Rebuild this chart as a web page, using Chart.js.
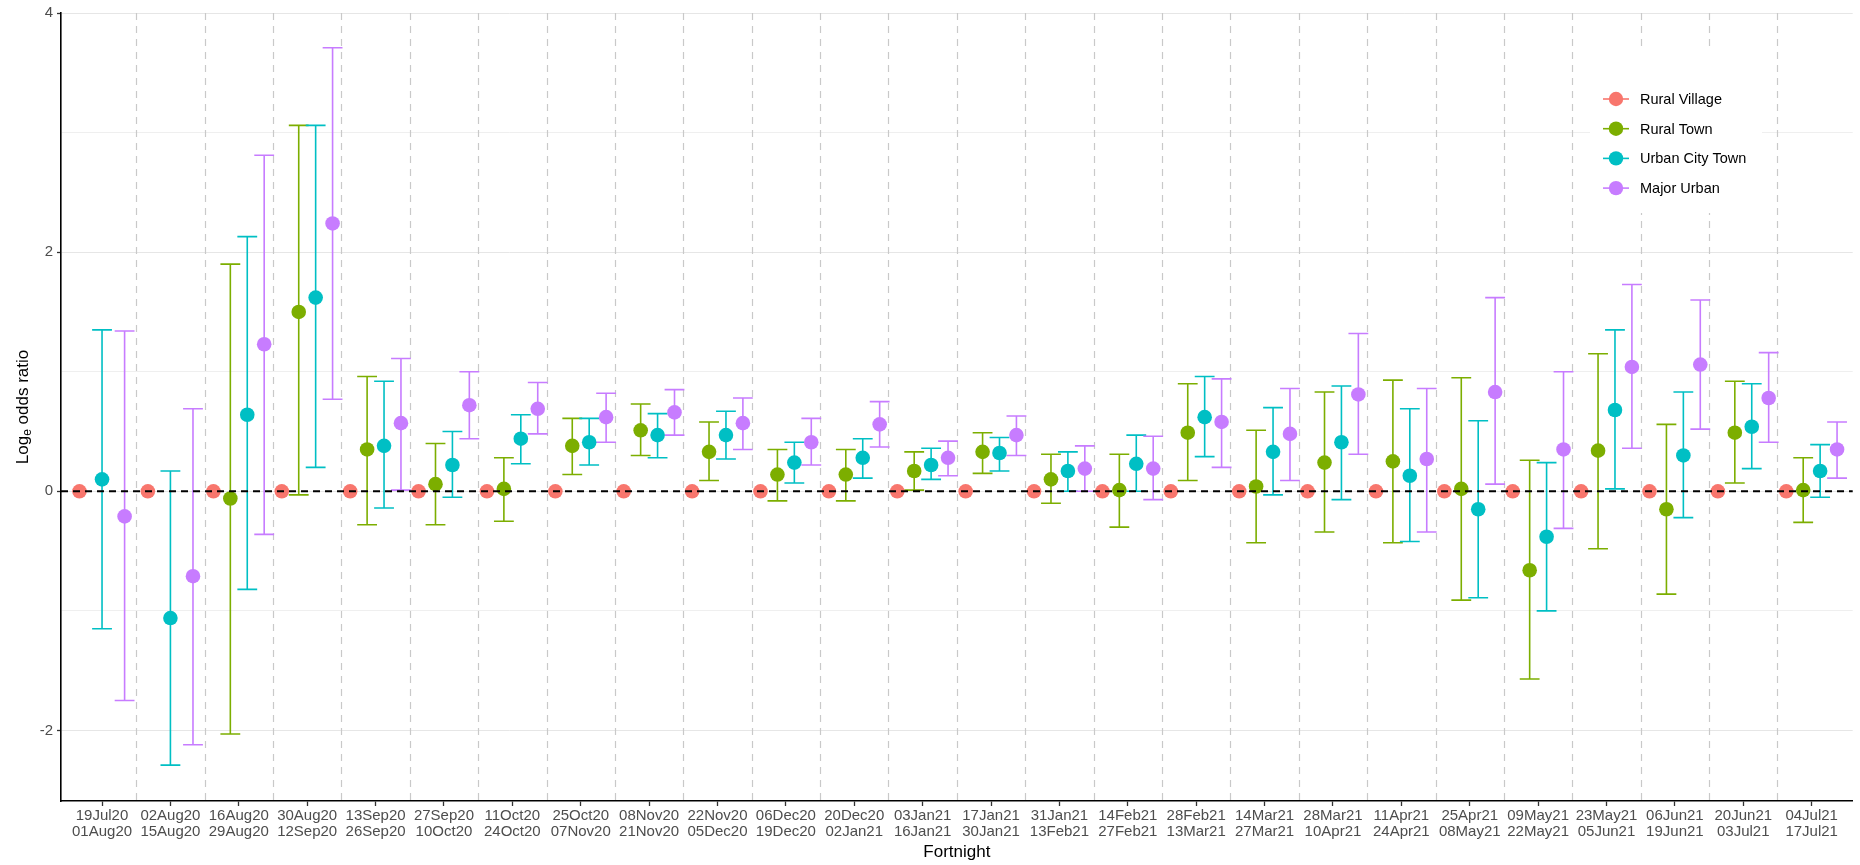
<!DOCTYPE html>
<html>
<head>
<meta charset="utf-8">
<script src="https://cdn.jsdelivr.net/npm/chart.js@4.4.1/dist/chart.umd.min.js"></script>
<style>
  body { margin: 0; background: #fff; }
  #wrap { width: 1860px; height: 865px; }
</style>
</head>
<body>
<div id="wrap"><canvas id="oddsChart" width="1860" height="865"></canvas></div>
<script>
// fortnight labels (start / end)
const fortnightStart = ['19Jul20','02Aug20','16Aug20','30Aug20','13Sep20','27Sep20','11Oct20','25Oct20','08Nov20','22Nov20','06Dec20','20Dec20','03Jan21','17Jan21','31Jan21','14Feb21','28Feb21','14Mar21','28Mar21','11Apr21','25Apr21','09May21','23May21','06Jun21','20Jun21','04Jul21'];
const fortnightEnd = ['01Aug20','15Aug20','29Aug20','12Sep20','26Sep20','10Oct20','24Oct20','07Nov20','21Nov20','05Dec20','19Dec20','02Jan21','16Jan21','30Jan21','13Feb21','27Feb21','13Mar21','27Mar21','10Apr21','24Apr21','08May21','22May21','05Jun21','19Jun21','03Jul21','17Jul21'];

const groupNames = ['Rural Village','Rural Town','Urban City Town','Major Urban'];
const groupColors = ['#F8766D','#7CAE00','#00BFC4','#C77CFF'];

// reference group
const ruralVillageEst = [0,0,0,0,0,0,0,0,0,0,0,0,0,0,0,0,0,0,0,0,0,0,0,0,0,0];

const ruralTownEst = [null,null,-0.06,1.50,0.35,0.06,0.02,0.38,0.51,0.33,0.14,0.14,0.17,0.33,0.10,0.01,0.49,0.04,0.24,0.25,0.02,-0.66,0.34,-0.15,0.49,0.01];
const ruralTownLo  = [null,null,-2.03,-0.03,-0.28,-0.28,-0.25,0.14,0.30,0.09,-0.08,-0.08,0.01,0.15,-0.10,-0.30,0.09,-0.43,-0.34,-0.43,-0.91,-1.57,-0.48,-0.86,0.07,-0.26];
const ruralTownHi  = [null,null,1.90,3.06,0.96,0.40,0.28,0.61,0.73,0.58,0.35,0.35,0.33,0.49,0.31,0.31,0.90,0.51,0.83,0.93,0.95,0.26,1.15,0.56,0.92,0.28];

const urbanCityEst = [0.10,-1.06,0.64,1.62,0.38,0.22,0.44,0.41,0.47,0.47,0.24,0.28,0.22,0.32,0.17,0.23,0.62,0.33,0.41,0.13,-0.15,-0.38,0.68,0.30,0.54,0.17];
const urbanCityLo  = [-1.15,-2.29,-0.82,0.20,-0.14,-0.05,0.23,0.22,0.28,0.27,0.07,0.11,0.10,0.17,0.00,0.00,0.29,-0.03,-0.07,-0.42,-0.89,-1.00,0.02,-0.22,0.19,-0.05];
const urbanCityHi  = [1.35,0.17,2.13,3.06,0.92,0.50,0.64,0.61,0.65,0.67,0.41,0.44,0.36,0.45,0.33,0.47,0.96,0.70,0.88,0.69,0.59,0.24,1.35,0.83,0.90,0.39];

const majorUrbanEst = [-0.21,-0.71,1.23,2.24,0.57,0.72,0.69,0.62,0.66,0.57,0.41,0.56,0.28,0.47,0.19,0.19,0.58,0.48,0.81,0.27,0.83,0.35,1.04,1.06,0.78,0.35];
const majorUrbanLo  = [-1.75,-2.12,-0.36,0.77,0.01,0.44,0.48,0.41,0.47,0.35,0.22,0.37,0.13,0.30,0.00,-0.07,0.20,0.09,0.31,-0.34,0.06,-0.31,0.36,0.52,0.41,0.11];
const majorUrbanHi  = [1.34,0.69,2.81,3.71,1.11,1.00,0.91,0.82,0.85,0.78,0.61,0.75,0.42,0.63,0.38,0.46,0.94,0.86,1.32,0.86,1.62,1.00,1.73,1.60,1.16,0.58];

const yTicks = [-2,-1,0,1,2,3,4];

const estimates = [ruralVillageEst, ruralTownEst, urbanCityEst, majorUrbanEst];
const lowers = [null, ruralTownLo, urbanCityLo, majorUrbanLo];
const uppers = [null, ruralTownHi, urbanCityHi, majorUrbanHi];

const dodgeWidth = 0.99;
const capHalf = 0.145;

// dodge the groups present in each fortnight
function buildDatasets(){
  const sets = groupNames.map((name, g) => ({
    label: name,
    data: [],
    backgroundColor: groupColors[g],
    borderWidth: 0,
    pointRadius: 7.3,
    pointHoverRadius: 7.3
  }));
  fortnightStart.forEach((_, i) => {
    const present = [];
    estimates.forEach((arr, g) => { if (arr[i] !== null) present.push(g); });
    const n = present.length;
    present.forEach((g, k) => {
      const off = (k - (n - 1) / 2) * dodgeWidth / n;
      sets[g].data.push({
        x: i + off,
        y: estimates[g][i],
        lo: lowers[g] ? lowers[g][i] : null,
        hi: uppers[g] ? uppers[g][i] : null
      });
    });
  });
  return sets;
}

const separators = {
  id: 'separators',
  beforeDatasetsDraw(chart){
    const {ctx, chartArea, scales} = chart;
    ctx.save();
    ctx.strokeStyle = '#c9c9c9';
    ctx.lineWidth = 1.2;
    ctx.setLineDash([7, 6]);
    for (let i = 0; i < fortnightStart.length - 1; i++) {
      const px = Math.round(scales.x.getPixelForValue(i + 0.5)) + 0.5;
      ctx.beginPath();
      ctx.moveTo(px, chartArea.top);
      ctx.lineTo(px, chartArea.bottom);
      ctx.stroke();
    }
    ctx.restore();
  }
};

const errorBars = {
  id: 'errorBars',
  beforeDatasetsDraw(chart){
    const {ctx, scales} = chart;
    ctx.save();
    ctx.lineWidth = 1.6;
    chart.data.datasets.forEach(ds => {
      ctx.strokeStyle = ds.backgroundColor;
      ds.data.forEach(p => {
        if (p.lo === null || p.hi === null) return;
        const x = scales.x.getPixelForValue(p.x);
        const x0 = scales.x.getPixelForValue(p.x - capHalf);
        const x1 = scales.x.getPixelForValue(p.x + capHalf);
        const yl = scales.y.getPixelForValue(p.lo);
        const yh = scales.y.getPixelForValue(p.hi);
        ctx.beginPath();
        ctx.moveTo(x, yl); ctx.lineTo(x, yh);
        ctx.moveTo(x0, yl); ctx.lineTo(x1, yl);
        ctx.moveTo(x0, yh); ctx.lineTo(x1, yh);
        ctx.stroke();
      });
    });
    ctx.restore();
  }
};

const zeroLine = {
  id: 'zeroLine',
  afterDatasetsDraw(chart){
    const {ctx, chartArea, scales} = chart;
    const y = scales.y.getPixelForValue(0);
    ctx.save();
    ctx.strokeStyle = '#000';
    ctx.lineWidth = 2;
    ctx.setLineDash([7, 5]);
    ctx.beginPath();
    ctx.moveTo(chartArea.left, y);
    ctx.lineTo(chartArea.right, y);
    ctx.stroke();
    ctx.restore();
  }
};

const legendBox = {
  id: 'legendBox',
  afterDraw(chart){
    const {ctx} = chart;
    ctx.save();
    ctx.fillStyle = '#fff';
    ctx.fillRect(1590, 47, 172, 166);
    ctx.font = '14.5px "Liberation Sans", Arial, sans-serif';
    ctx.textBaseline = 'middle';
    groupNames.forEach((name, g) => {
      const cy = 99 + g * 29.7;
      ctx.strokeStyle = groupColors[g];
      ctx.lineWidth = 1.6;
      ctx.beginPath();
      ctx.moveTo(1603, cy); ctx.lineTo(1629, cy);
      ctx.stroke();
      ctx.fillStyle = groupColors[g];
      ctx.beginPath();
      ctx.arc(1616, cy, 7.2, 0, Math.PI * 2);
      ctx.fill();
      ctx.fillStyle = '#000';
      ctx.fillText(name, 1640, cy + 1);
    });
    ctx.restore();
  }
};

const yTitle = {
  id: 'yTitle',
  afterDraw(chart){
    const {ctx, chartArea} = chart;
    const cy = (chartArea.top + chartArea.bottom) / 2;
    ctx.save();
    ctx.translate(23, cy);
    ctx.rotate(-Math.PI / 2);
    ctx.fillStyle = '#000';
    ctx.textBaseline = 'middle';
    const big = '17px "Liberation Sans", Arial, sans-serif';
    const small = '12px "Liberation Sans", Arial, sans-serif';
    ctx.font = big;
    const w1 = ctx.measureText('Log').width;
    const w3 = ctx.measureText(' odds ratio').width;
    ctx.font = small;
    const w2 = ctx.measureText('e').width;
    let x = -(w1 + w2 + w3) / 2;
    ctx.font = big;
    ctx.fillText('Log', x, 0);
    x += w1;
    ctx.font = small;
    ctx.fillText('e', x, 5);
    x += w2;
    ctx.font = big;
    ctx.fillText(' odds ratio', x, 0);
    ctx.restore();
  }
};

new Chart(document.getElementById('oddsChart'), {
  type: 'scatter',
  data: { datasets: buildDatasets() },
  plugins: [separators, errorBars, zeroLine, legendBox, yTitle],
  options: {
    responsive: false,
    animation: false,
    devicePixelRatio: 1,
    layout: { padding: { left: 0, right: 4, top: 11, bottom: 0 } },
    plugins: {
      legend: { display: false },
      tooltip: { enabled: false }
    },
    scales: {
      x: {
        type: 'linear',
        min: -0.6,
        max: fortnightStart.length - 0.4,
        afterBuildTicks(scale){ scale.ticks = fortnightStart.map((_, i) => ({ value: i })); },
        afterFit(scale){ scale.height = 64; },
        grid: { drawOnChartArea: false, drawTicks: true, tickLength: 5, tickColor: '#333', tickWidth: 1.3 },
        border: { display: true, color: '#000', width: 1.6 },
        ticks: {
          autoSkip: false,
          maxRotation: 0,
          padding: 2,
          color: '#4d4d4d',
          font: { family: '"Liberation Sans", Arial, sans-serif', size: 15, lineHeight: 1.07 },
          callback: (v) => [fortnightStart[v], fortnightEnd[v]]
        },
        title: {
          display: true,
          text: 'Fortnight',
          color: '#000',
          padding: { top: 0, bottom: 2 },
          font: { family: '"Liberation Sans", Arial, sans-serif', size: 17 }
        }
      },
      y: {
        type: 'linear',
        min: -2.59,
        max: 4.0,
        afterBuildTicks(scale){ scale.ticks = yTicks.map(v => ({ value: v })); },
        afterFit(scale){ scale.width = 61; },
        grid: {
          color: (c) => (c.tick && c.tick.value % 2 === 0) ? '#e6e6e6' : '#efefef',
          lineWidth: 1,
          drawTicks: true,
          tickLength: 4,
          tickWidth: 1.3,
          tickColor: (c) => (c.tick && c.tick.value % 2 === 0) ? '#333' : 'rgba(0,0,0,0)'
        },
        border: { display: true, color: '#000', width: 1.6 },
        ticks: {
          padding: 4,
          color: '#4d4d4d',
          font: { family: '"Liberation Sans", Arial, sans-serif', size: 15 },
          callback: (v) => (v % 2 === 0 ? String(v) : '')
        }
      }
    }
  }
});
</script>
</body>
</html>
